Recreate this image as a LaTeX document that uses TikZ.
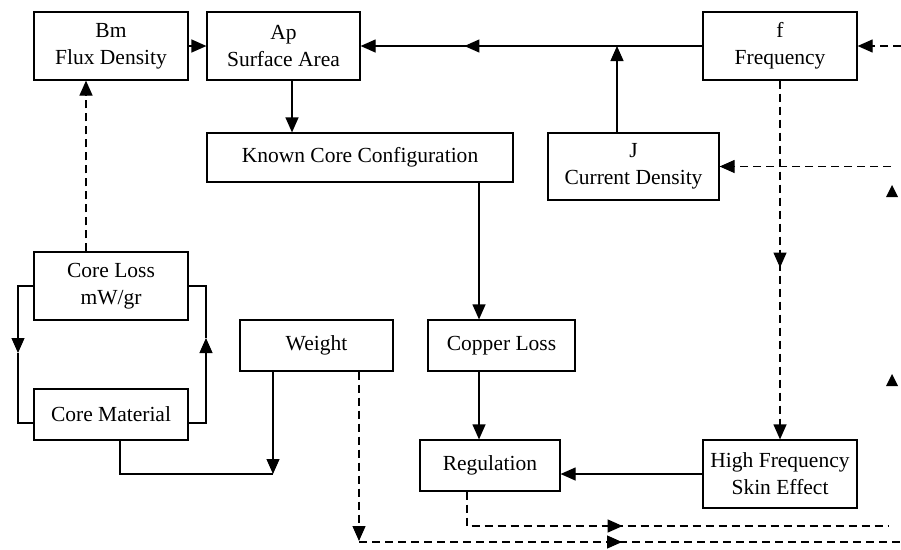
\documentclass[tikz,border=0pt]{standalone}
\usepackage{fontspec}
\setmainfont{Liberation Serif}
\usetikzlibrary{arrows.meta,decorations.markings}
\newcommand\boxfont{\fontsize{21.5}{27}\selectfont}
\tikzset{
  box/.style={draw, line width=1.2pt, inner sep=0pt, align=center, font=\boxfont},
  conn/.style={line width=1.2pt},
  tip/.tip={Triangle[length=15pt,width=13pt]},
  arr/.style={conn, -tip},
  dsh/.style={dash pattern=on 8pt off 5pt},
  midarr/.style={postaction={decorate}, decoration={markings, mark=at position #1 with {\arrow{tip}}}},
}
\begin{document}
\begin{tikzpicture}[x=1pt,y=-1pt]
\fill[white] (0,0) rectangle (901,549);
\useasboundingbox (0,0) rectangle (901,549);

% boxes
\node[box, minimum width=154pt, minimum height=68pt] (bm) at (111,46) {Bm\\Flux Density};
\node[box, minimum width=153pt, minimum height=68pt] (ap) at (283.5,46) {Ap\\Surface Area};
\node[box, minimum width=154pt, minimum height=68pt] (f) at (780,46) {f\\Frequency};
\node[box, minimum width=306pt, minimum height=49pt] (kcc) at (360,157.5) {Known Core Configuration};
\node[box, minimum width=171pt, minimum height=67pt] (j) at (633.5,166.5) {J\\Current Density};
\node[box, minimum width=154pt, minimum height=68pt] (cl) at (111,286) {Core Loss\\mW/gr};
\node[box, minimum width=154pt, minimum height=51pt] (cm) at (111,414.5) {Core Material};
\node[box, minimum width=153pt, minimum height=51pt] (w) at (316.5,345.5) {Weight};
\node[box, minimum width=147pt, minimum height=51pt] (cu) at (501.5,345.5) {Copper Loss};
\node[box, minimum width=140pt, minimum height=51pt] (reg) at (490,465.5) {Regulation};
\node[box, minimum width=154pt, minimum height=68pt] (hf) at (780,474) {High Frequency\\Skin Effect};

% free ends
\coordinate (fin) at (901,46);
\coordinate (jin) at (891,166.5);
\coordinate (wj) at (273,474);
\coordinate (lm) at (18,353);
\coordinate (rm) at (206,338);
\coordinate (cmL) at (34,423);
\coordinate (cmR) at (188,423);
\coordinate (regEnd) at (888,526);
\coordinate (wEnd) at (359,541);
\coordinate (bStart) at (359,542);
\coordinate (bEnd) at (901,542);
\coordinate (cux) at (479,0);

% solid connectors
\draw[arr] (bm.east) -- (ap.west);
\draw[arr, midarr=238pt] (f.west) -- (ap.east);
\draw[arr] ([xshift=8.5pt]ap.south) -- ([xshift=8.5pt]ap.south |- kcc.north);
\draw[arr] ([xshift=-16.5pt]j.north) -- ([xshift=-16.5pt]j.north |- f.west);
\draw[arr] (cux |- kcc.south) -- (cux |- cu.north);
\draw[arr] (cux |- cu.south) -- (cux |- reg.north);
\draw[arr] (hf.west) -- (hf.west -| reg.east);

% core loss / material loops
\draw[arr] (cl.west) -| (lm);
\draw[conn] (lm) |- (cmL);
\draw[arr] (cmR) -| (rm);
\draw[conn] (rm) |- (cl.east);
\draw[conn] ([xshift=9pt]cm.south) |- (wj);
\draw[arr] ([xshift=-43.5pt]w.south) -- (wj);

% dashed connectors
\draw[arr, dsh] ([xshift=-25pt]cl.north) -- ([xshift=-25pt]bm.south);
\draw[arr, dsh] (fin) -- (f.east);
\draw[arr, dsh] (jin) -- (j.east);
\draw[arr, dsh, midarr=187pt] (f.south) -- (hf.north);
\draw[conn, dsh, midarr=190pt] ([xshift=-23pt]reg.south) |- (regEnd);
\draw[arr, dsh] ([xshift=42.5pt]w.south) -- (wEnd);
\draw[conn, dsh, midarr=263pt] (bStart) -- (bEnd);

% stray arrowheads at right edge
\fill (886,197) -- (898,197) -- (892,185) -- cycle;
\fill (886,386) -- (898,386) -- (892,374) -- cycle;
\end{tikzpicture}
\end{document}
